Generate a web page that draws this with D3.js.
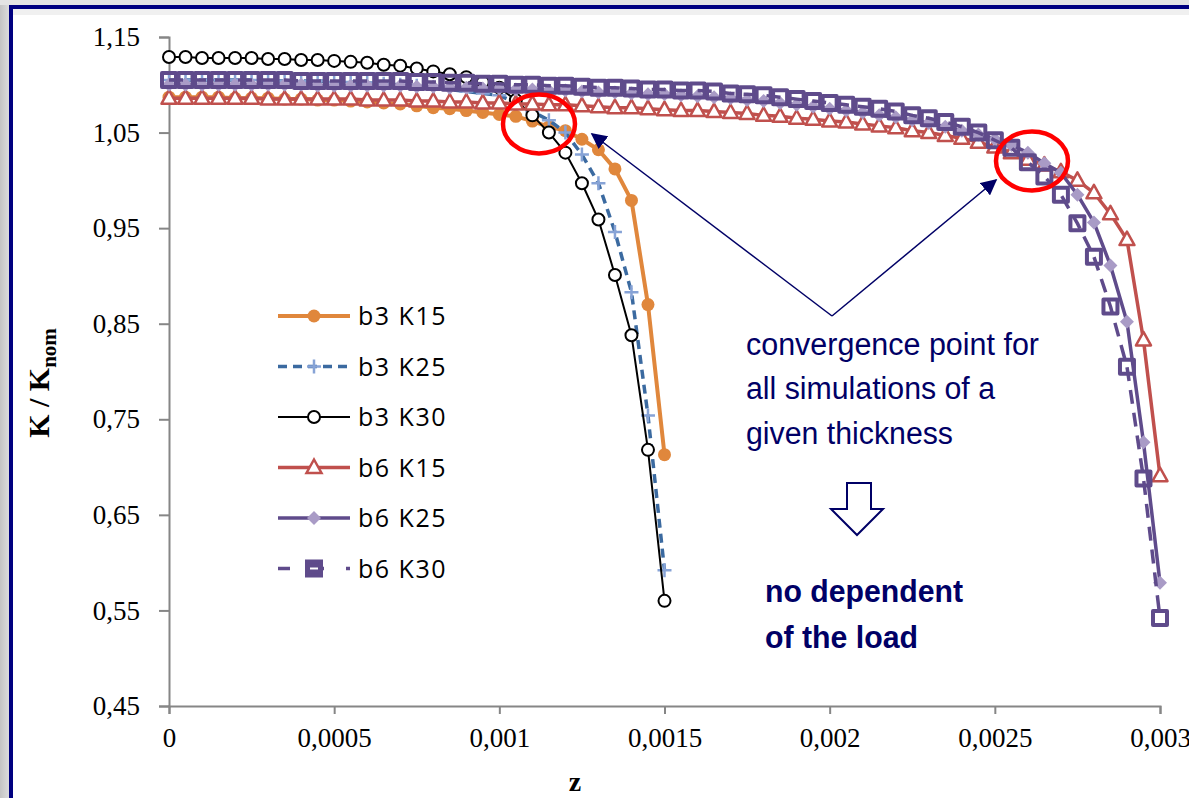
<!DOCTYPE html>
<html>
<head>
<meta charset="utf-8">
<script src="https://cdn.jsdelivr.net/npm/d3@7"></script>
<style>
  html, body { margin: 0; padding: 0; background: #fff; }
  svg { display: block; }
</style>
</head>
<body>
<div id="chart"></div>
<script>
// z positions (same step for every simulation)
const zB3 = [0, 0.00005, 0.0001, 0.00015, 0.0002, 0.00025, 0.0003, 0.00035, 0.0004, 0.00045,
  0.0005, 0.00055, 0.0006, 0.00065, 0.0007, 0.00075, 0.0008, 0.00085, 0.0009, 0.00095,
  0.001, 0.00105, 0.0011, 0.00115, 0.0012, 0.00125, 0.0013, 0.00135, 0.0014, 0.00145, 0.0015];
const zB6 = zB3.concat([0.00155, 0.0016, 0.00165, 0.0017, 0.00175, 0.0018, 0.00185, 0.0019, 0.00195,
  0.002, 0.00205, 0.0021, 0.00215, 0.0022, 0.00225, 0.0023, 0.00235, 0.0024, 0.00245,
  0.0025, 0.00255, 0.0026, 0.00265, 0.0027, 0.00275, 0.0028, 0.00285, 0.0029, 0.00295, 0.003]);

// K / Knom values
const b3K15 = [1.087, 1.087, 1.087, 1.087, 1.086, 1.086, 1.086, 1.085, 1.085, 1.084,
  1.084, 1.083, 1.082, 1.081, 1.080, 1.078, 1.076, 1.075, 1.073, 1.071,
  1.069, 1.067, 1.062, 1.056, 1.052, 1.043, 1.032, 1.012, 0.979, 0.870, 0.713];
const b3K25 = [1.105, 1.105, 1.105, 1.105, 1.105, 1.105, 1.104, 1.104, 1.104, 1.104,
  1.103, 1.103, 1.102, 1.101, 1.100, 1.099, 1.097, 1.095, 1.093, 1.091,
  1.089, 1.081, 1.072, 1.063, 1.050, 1.027, 0.997, 0.946, 0.883, 0.754, 0.592];
const b3K30 = [1.129, 1.129, 1.128, 1.128, 1.128, 1.128, 1.127, 1.127, 1.126, 1.126,
  1.125, 1.124, 1.123, 1.121, 1.120, 1.117, 1.114, 1.111, 1.108, 1.103,
  1.097, 1.084, 1.068, 1.050, 1.029, 0.997, 0.959, 0.901, 0.838, 0.718, 0.560];
const b6K15 = [1.086, 1.086, 1.086, 1.086, 1.086, 1.086, 1.085, 1.085, 1.085, 1.085,
  1.085, 1.085, 1.084, 1.084, 1.084, 1.083, 1.083, 1.082, 1.082, 1.081,
  1.081, 1.080, 1.080, 1.079, 1.079, 1.078, 1.077, 1.076, 1.076, 1.075,
  1.074, 1.073, 1.073, 1.072, 1.071, 1.070, 1.068, 1.067, 1.065, 1.064,
  1.062, 1.061, 1.059, 1.057, 1.055, 1.052, 1.050, 1.047, 1.044, 1.040,
  1.035, 1.029, 1.022, 1.016, 1.009, 1.000, 0.987, 0.965, 0.938, 0.833, 0.691];
const b6K25 = [1.100, 1.100, 1.100, 1.100, 1.100, 1.100, 1.100, 1.100, 1.100, 1.099,
  1.099, 1.099, 1.099, 1.099, 1.099, 1.098, 1.098, 1.097, 1.097, 1.096,
  1.096, 1.095, 1.095, 1.094, 1.094, 1.093, 1.092, 1.092, 1.091, 1.090,
  1.090, 1.089, 1.088, 1.087, 1.086, 1.084, 1.083, 1.081, 1.079, 1.077,
  1.075, 1.073, 1.071, 1.068, 1.066, 1.063, 1.060, 1.056, 1.052, 1.048,
  1.043, 1.037, 1.029, 1.018, 1.008, 0.985, 0.956, 0.911, 0.852, 0.726, 0.579];
const b6K30 = [1.105, 1.105, 1.105, 1.105, 1.105, 1.105, 1.105, 1.105, 1.104, 1.104,
  1.104, 1.104, 1.104, 1.104, 1.104, 1.103, 1.103, 1.102, 1.102, 1.101,
  1.101, 1.100, 1.100, 1.099, 1.099, 1.098, 1.097, 1.097, 1.096, 1.095,
  1.095, 1.094, 1.094, 1.093, 1.091, 1.090, 1.089, 1.087, 1.085, 1.083,
  1.081, 1.079, 1.077, 1.075, 1.072, 1.068, 1.065, 1.061, 1.056, 1.050,
  1.042, 1.034, 1.019, 1.004, 0.985, 0.955, 0.920, 0.868, 0.805, 0.688, 0.542];

const seriesNames = ["b3 K15", "b3 K25", "b3 K30", "b6 K15", "b6 K25", "b6 K30"];

// axis ticks
const yTicks = [0.45, 0.55, 0.65, 0.75, 0.85, 0.95, 1.05, 1.15];
const yTickLabels = ["0,45", "0,55", "0,65", "0,75", "0,85", "0,95", "1,05", "1,15"];
const xTicks = [0, 0.0005, 0.001, 0.0015, 0.002, 0.0025, 0.003];
const xTickLabels = ["0", "0,0005", "0,001", "0,0015", "0,002", "0,0025", "0,003"];

const W = 1189, H = 798;
const serif = "'Liberation Serif', 'Times New Roman', serif";
const navy = "#000066";

const svg = d3.select("#chart").append("svg")
  .attr("width", W).attr("height", H);

// window-like frame round the chart
const defs = svg.append("defs");
const grad = defs.append("linearGradient").attr("id", "sideGrad")
  .attr("x1", 0).attr("x2", 1).attr("y1", 0).attr("y2", 0);
grad.append("stop").attr("offset", "0%").attr("stop-color", "#c4c4c4");
grad.append("stop").attr("offset", "100%").attr("stop-color", "#dcdcdc");

svg.append("rect").attr("width", W).attr("height", H).attr("fill", "#fff");
svg.append("rect").attr("x", 0).attr("y", 0).attr("width", 9).attr("height", H).attr("fill", "url(#sideGrad)");
svg.append("rect").attr("x", 0).attr("y", 0).attr("width", W).attr("height", 5).attr("fill", "#e4e4e4");
svg.append("rect").attr("x", 13).attr("y", 9).attr("width", W).attr("height", 6).attr("fill", "#f0f0f0");
svg.append("rect").attr("x", 9).attr("y", 5).attr("width", W).attr("height", 4).attr("fill", "#000080");
svg.append("rect").attr("x", 9).attr("y", 5).attr("width", 4).attr("height", H).attr("fill", "#000080");

// scales
const x = d3.scaleLinear().domain([0, 0.003]).range([169, 1160]);
const y = d3.scaleLinear().domain([0.45, 1.15]).range([706, 37]);

// axes
const yAxis = svg.append("g")
  .attr("transform", `translate(${x(0)},0)`)
  .call(d3.axisLeft(y).tickValues(yTicks).tickSize(10).tickPadding(19)
    .tickFormat((d, i) => yTickLabels[i]));
const xAxis = svg.append("g")
  .attr("transform", `translate(0,${y(0.45)})`)
  .call(d3.axisBottom(x).tickValues(xTicks).tickSize(8).tickPadding(14)
    .tickFormat((d, i) => xTickLabels[i]));
[yAxis, xAxis].forEach(ax => {
  ax.attr("font-size", null).attr("font-family", null);
  ax.select(".domain").attr("stroke", "#868686").attr("stroke-width", 2);
  ax.selectAll(".tick line").attr("stroke", "#868686").attr("stroke-width", 2);
  ax.selectAll(".tick text").attr("fill", "#000")
    .style("font-family", serif).style("font-size", "27px");
});

// axis titles
const yTitle = svg.append("text")
  .attr("transform", "translate(49,383) rotate(-90)")
  .attr("text-anchor", "middle")
  .style("font-family", serif).style("font-weight", "bold").style("font-size", "30px");
yTitle.append("tspan").text("K / K");
yTitle.append("tspan").attr("dy", 7).style("font-size", "21px").text("nom");

svg.append("text").attr("x", 575).attr("y", 791).attr("text-anchor", "middle")
  .style("font-family", serif).style("font-weight", "bold").style("font-size", "28px")
  .text("z");

// marker shapes
const markerPaths = {
  circle: "M6.5,0A6.5,6.5 0 1,1 -6.5,0A6.5,6.5 0 1,1 6.5,0Z",
  ring: "M6,0A6,6 0 1,1 -6,0A6,6 0 1,1 6,0Z",
  plus: "M-7,0H7M0,-7V7",
  triangle: "M0,-8L7.5,5.5L-7.5,5.5Z",
  diamond: "M0,-7L7,0L0,7L-7,0Z",
  square: "M-7,-7H7V7H-7Z"
};

const series = [
  { name: seriesNames[0], z: zB3, v: b3K15, color: "#e0873c", width: 4, dash: null,
    marker: "circle", mFill: "#e0873c", mStroke: "none", mWidth: 0 },
  { name: seriesNames[1], z: zB3, v: b3K25, color: "#3b6aa0", width: 3.5, dash: "9,6",
    marker: "plus", mFill: "none", mStroke: "#87a3d6", mWidth: 2.5 },
  { name: seriesNames[2], z: zB3, v: b3K30, color: "#000000", width: 2, dash: null,
    marker: "ring", mFill: "#fff", mStroke: "#000", mWidth: 2 },
  { name: seriesNames[3], z: zB6, v: b6K15, color: "#c0504d", width: 3.5, dash: null,
    marker: "triangle", mFill: "#fff", mStroke: "#c0504d", mWidth: 2.5 },
  { name: seriesNames[4], z: zB6, v: b6K25, color: "#5f4b8b", width: 3.5, dash: null,
    marker: "diamond", mFill: "#a99bc6", mStroke: "none", mWidth: 0 },
  { name: seriesNames[5], z: zB6, v: b6K30, color: "#5f4b8b", width: 3.5, dash: "14,9",
    marker: "square", mFill: "none", mStroke: "#5f4b8b", mWidth: 4 }
];

const line = d3.line().x(d => x(d[0])).y(d => y(d[1]));

series.forEach(s => {
  const pts = s.z.map((z, i) => [z, s.v[i]]);
  const g = svg.append("g");
  g.append("path")
    .attr("d", line(pts))
    .attr("fill", "none")
    .attr("stroke", s.color)
    .attr("stroke-width", s.width)
    .attr("stroke-linejoin", "round")
    .attr("stroke-dasharray", s.dash);
  g.selectAll("path.m")
    .data(pts)
    .enter().append("path")
    .attr("class", "m")
    .attr("d", markerPaths[s.marker])
    .attr("transform", d => `translate(${x(d[0])},${y(d[1])})`)
    .attr("fill", s.mFill)
    .attr("stroke", s.mStroke)
    .attr("stroke-width", s.mWidth)
    .attr("stroke-linejoin", "round");
});

// legend
const legend = svg.append("g");
series.forEach((s, i) => {
  const ly = 316 + i * 50.5;
  const row = legend.append("g").attr("transform", `translate(0,${ly})`);
  row.append("line")
    .attr("x1", 278).attr("x2", 350).attr("y1", 0).attr("y2", 0)
    .attr("stroke", s.color).attr("stroke-width", s.width)
    .attr("stroke-dasharray", s.dash ? (s.marker === "square" ? "12,22" : "9,6") : null);
  row.append("path")
    .attr("d", markerPaths[s.marker])
    .attr("transform", "translate(314,0)")
    .attr("fill", s.marker === "square" ? "#5f4b8b" : s.mFill)
    .attr("stroke", s.mStroke).attr("stroke-width", s.mWidth);
  if (s.marker === "square") {
    row.append("line").attr("x1", 310).attr("x2", 318).attr("y1", 0).attr("y2", 0)
      .attr("stroke", "#fff").attr("stroke-width", 2);
  }
  row.append("text")
    .attr("x", 358).attr("y", 9)
    .style("font-family", "'Open Sans', 'DejaVu Sans', sans-serif")
    .style("font-size", "25px")
    .style("letter-spacing", "1.5px")
    .text(s.name);
});

// annotation: red circles
[[539, 124], [1032, 161]].forEach(c => {
  svg.append("ellipse")
    .attr("cx", c[0]).attr("cy", c[1]).attr("rx", 36).attr("ry", 29.5)
    .attr("fill", "none").attr("stroke", "#ff0000").attr("stroke-width", 4.5);
});

// annotation: arrows from the text to the circles
defs.append("marker").attr("id", "head")
  .attr("viewBox", "0 0 10 10").attr("refX", 9).attr("refY", 5)
  .attr("markerWidth", 16).attr("markerHeight", 16)
  .attr("markerUnits", "userSpaceOnUse")
  .attr("orient", "auto")
  .append("path").attr("d", "M0,0L10,5L0,10Z").attr("fill", navy);

[[592, 134], [996, 180]].forEach(t => {
  svg.append("line")
    .attr("x1", 832).attr("y1", 316).attr("x2", t[0]).attr("y2", t[1])
    .attr("stroke", navy).attr("stroke-width", 1.5)
    .attr("marker-end", "url(#head)");
});

// annotation text
const narrow = "'Liberation Sans Narrow', 'Arial Narrow', 'Liberation Sans', sans-serif";
const noteLines = [
  ["convergence point for", 355, 293],
  ["all simulations of a", 399, 249],
  ["given thickness", 444, 207]
];
noteLines.forEach(l => {
  svg.append("text").attr("x", 746).attr("y", l[1])
    .attr("textLength", l[2]).attr("lengthAdjust", "spacingAndGlyphs")
    .style("font-family", narrow).style("font-size", "31px")
    .attr("fill", navy).text(l[0]);
});

svg.append("path")
  .attr("d", "M847,483H871V509H883L857,535L831,509H847Z")
  .attr("fill", "#fff").attr("stroke", navy).attr("stroke-width", 2)
  .attr("stroke-linejoin", "miter");

const boldLines = [
  ["no dependent", 602, 198],
  ["of the load", 648, 153]
];
boldLines.forEach(l => {
  svg.append("text").attr("x", 765).attr("y", l[1])
    .attr("textLength", l[2]).attr("lengthAdjust", "spacingAndGlyphs")
    .style("font-family", narrow).style("font-size", "32px").style("font-weight", "bold")
    .attr("fill", navy).text(l[0]);
});
</script>
</body>
</html>
